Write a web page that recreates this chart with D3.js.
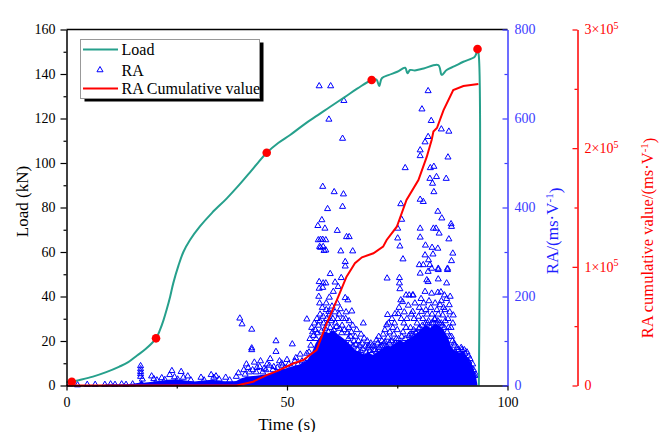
<!DOCTYPE html>
<html lang="en">
<head>
<meta charset="UTF-8">
<title>Load, RA and RA cumulative value</title>
<script src="https://d3js.org/d3.v7.min.js"></script>
<style>
  body { margin: 0; background: #fff; }
  svg text { font-family: "Liberation Serif", "Times New Roman", serif; }
</style>
</head>
<body>
<div id="chart"></div>
<script>
// ---- data ----
// load curve: [time s, load kN]
var loadCurve = [[0,1.5],[1.2,1.7],[3,2.5],[6,4],[9,6],[12,8.5],[14,10.5],[16,13.5],[18,16.5],[20.3,21.2],
  [21.2,25],[22,29.4],[22.7,34],[23.5,39.9],[24.2,45.9],[25.4,54],[26.5,60],[28,65.4],[30.3,71.6],[33,77.6],
  [36.3,84],[39,89.8],[41.6,95.8],[43.5,100.3],[45.4,104.6],[48,109],[50.7,112.6],[54,117.5],[57,121.5],[59.8,125.3],
  [63,129.5],[66,133.5],[69.2,137.3],[70.3,137.5],[70.9,134.6],[71.5,138.1],[73,139.5],[75,141],[76.8,142.8],
  [77.3,140.3],[77.9,141.8],[79,141.6],[81,142.5],[84.3,144],[85.1,139.6],[86.2,141.8],[88,143.5],[90,145.5],
  [92.6,147.8],[93.2,151.2],[93.5,148],[93.5,0]];
var loadMarks = [[1.2,1.7],[20.3,21.2],[45.4,104.6],[69.2,137.3],[93.2,151.2]];

// RA cumulative value: [time s, ms/V]
var cumCurve = [[0,0],[38.6,0],[42.3,3200],[45.4,8800],[48,12500],[51.4,18500],[53.7,21500],[55.2,25700],
  [56.7,29900],[59,52400],[61.3,72000],[63.5,91700],[64.7,98800],[65.4,103000],[67,108000],[69.6,111400],
  [71.8,117000],[72.6,122600],[74.9,133800],[77.1,156300],[79.8,173200],[81.7,192800],[82.8,206900],
  [83.2,214000],[84,217000],[85.5,232100],[87.7,249000],[90,252400],[93.4,254100]];

// upper edge of the solid mass of RA hits: [time s, RA]
var raBand = [[8,0],[9,3],[13,3],[15,4],[16.5,6],[17,12],[17.5,6],[19,8],[21,10],[23,13],[25,14],[27,11],
  [29,9],[31,11],[33,13],[35,10],[37,9],[38.5,10],[39.5,16],[41,20],[43,22],[45,25],[47,30],[49,36],[51,42],
  [53,48],[54.5,56],[55.5,70],[56.5,95],[57.5,110],[58.5,122],[59.5,118],[60.5,125],[61.5,115],[62.5,108],
  [63.5,100],[64.5,90],[65.5,80],[66.5,74],[67.5,70],[68.5,74],[69.5,68],[70.5,76],[71.5,82],[72.5,90],
  [73.5,88],[74.5,95],[75.5,102],[76.5,98],[77.5,105],[78.5,110],[79.5,118],[80.5,128],[81.5,136],[82.5,130],
  [83.5,138],[84.5,135],[85.5,126],[86.5,108],[87.2,88],[88,78],[89,74],[90,76],[91,62],[92,42],[92.8,25],[93.2,0]];

// single RA hits standing out of the mass: [time s, RA]
var raPoints = [[0.8,3],[2.5,1],[4.7,2],[6.5,2],[8.7,2],[10,3],[11,2],[12.5,3],[13.5,2],[15,3],
  [16.8,44],[16.8,37],[16.8,31],[16.8,26],[16.8,20],[17.2,14],[19.3,21],[19.8,15],[20.5,12],[21.6,17],
  [22.3,13],[23.4,24],[23.9,33],[24.5,19],[25.2,14],[26,31],[26.5,18],[27.5,21],[28.2,12],[30.5,18],[31.2,12],
  [32.8,24],[33.4,18],[33.9,21],[34.6,14],[36.1,18],[37,12],[38.5,20],[39,28],[39.3,151],[39.8,138],[40.2,35],
  [40.8,48],[41.5,30],[42,126],[42,84],[42,80],[42.6,52],[43.2,40],[44,55],[44.8,38],[45.5,48],[46.2,60],
  [47,42],[47.5,100],[47.5,76],[48.3,55],[49,45],[50,58],[51.2,93],[52,62],[53,70],[54.5,149],[54.5,72],
  [55.4,90],[55.8,120],[56.2,140],[56.6,105],
  [57.3,673],[59.9,673],[62.9,640],[59.5,598],[62.6,555],[82.0,662],[80.6,621],[82.7,595],[85.0,576],[86.7,571],
  [82.0,559],[81.3,547],[80.2,529],[80.2,516],[86.5,513],[76.8,489],[82.5,489],[83.3,492],[82.4,465],[83.9,469],
  [86.1,465],[83,454],[58.1,447],[60.7,435],[62.8,430],[83.3,435],[80.2,418],[80.9,413],[75.8,408],[59.2,397],
  [62.6,402],[84.2,391],[85.1,376],[57.9,372],[57.0,359],[58.6,353],[76.0,373],[87.2,363],[87.3,357],[61.4,348],
  [63.5,334],[64.1,334],[80.2,353],[83.2,353],[83.8,353],[84.5,342],[75.1,353],[57.6,328],[58.1,328],[57.1,327],
  [58.8,327],[80.2,333],[86.7,329],[75.1,331],[57.4,312],[58.2,312],[58.8,304],[57.6,310],[58.4,303],[62.2,302],
  [64.9,302],[75.6,313],[81.4,315],[82.9,310],[84.2,308],[87.6,297],[76.3,284],[81.3,293],[82.1,282],[83.1,295],
  [63.2,278],[63.2,268],[80.0,271],[80.9,271],[87.3,280],[86.4,263],[84.3,263],[82.4,271],[82.8,263],[82.0,256],
  [80.2,252],[59.8,251],[62.3,242],[57.3,233],[58.2,230],[58.8,230],[60.9,232],[61.6,222],[57.3,218],[58.1,220],
  [60.5,211],[57.2,200],[57.4,185],[59.6,198],[61.4,185],[63.2,197],[63.8,192],[58.9,170],[59.5,166],[64.7,167],
  [67.3,140],[70.3,102],[67.5,106],[68.4,84],[72.7,241],[75.5,242],[75.5,230],[75.6,217],[77.0,203],[77.7,203],
  [78.5,203],[75.8,192],[76.2,188],[72.8,159],[74.5,161],[75.2,161],[72.2,125],[72.6,136],[81.7,237],[82.0,233],
  [84.3,260],[86.4,260],[84.3,239],[86.2,230],[81.3,211],[82.8,207],[84.2,209],[85.7,203],[78.6,203],[87.0,200],
  [86.8,181],[84.7,181],[85.3,158],[87.7,158],[91.2,66],[91.2,53],[78.5,166],[80.5,166],
  [56.8,150],[57.5,160],[58.3,140],[59,150],[59.8,130],[60.4,150],[61,140],[61.8,160],[62.5,135],[63.3,150],
  [64,130],[64.6,120],[65.5,110],[66.2,100],[66.8,115],[69,95],[69.8,88],[70.8,110],[71.5,100],[73.3,120],
  [74,130],[76.5,140],[77.2,150],[78,130],[78.8,150],[79.5,140],[80,175],[81,185],[81.8,160],[82.6,175],
  [83.5,150],[84,170],[85,190],[85.8,170],[86.5,150],[87.2,130],[88.3,60],[89,55],[89.8,70],[90.5,48],
  [92,30],[92.6,22],
  [55.2,105],[55.6,130],[56,112],[56.4,125],[56.9,118],[57.1,135],[57.4,145],[57.8,122],[58,175],[58.2,155],
  [58.6,128],[58.9,185],[59.2,140],[59.4,120],[59.7,160],[60,145],[60.2,178],[60.6,125],[60.9,165],[61.2,132],
  [61.5,150],[61.9,128],[62.1,172],[62.4,118],[62.7,150],[63,125],[63.4,165],[63.7,118],[64.1,145],[64.4,110],
  [64.9,135],[65.2,100],[65.8,125],[66.4,90],[67,95],[67.8,88],[68.2,100],[68.8,78],[69.4,90],[70,80],
  [70.6,95],[71.2,88],[71.8,115],[72.2,98],[72.9,108],[73.6,100],[74.2,115],[74.8,105],
  [73,140],[73.8,150],[74.4,140],[75,125],[75.4,175],[75.9,150],[76.3,120],[76.6,165],[77,130],[77.5,180],
  [77.9,115],[78.2,160],[78.7,125],[79,185],[79.3,118],[79.8,155],[80.1,130],[80.4,195],[80.8,150],[81.2,125],
  [81.5,170],[81.9,140],[82.2,190],[82.5,130],[82.9,160],[83.2,140],[83.6,185],[83.9,130],[84.3,160],[84.6,140],
  [84.9,210],[85.2,135],[85.5,175],[85.9,145],[86.2,195],[86.6,130],[86.9,165],[87.3,110],[87.6,140],[87.9,95],
  [88.2,75],[88.6,85],[89.2,65],[89.6,80],[90,60],[90.4,72],[90.9,55],[91.4,45],[91.8,40],[92.3,35],[92.8,25],
  [40.5,25],[41.2,40],[42.2,35],[43,30],[43.8,42],[44.5,30],[45.2,35],[46,45],[46.8,35],[47.8,40],
  [48.8,50],[49.5,40],[50.4,48],[51,42],[51.8,55],[52.5,48],[53.4,55],[54,52],[54.8,60],[55,75],
  [63.9,105],[64.3,95],[65,88],[65.6,92],[66,80],[66.7,78],[67.2,82],[68,75],[68.5,90],[69.2,72],
  [69.7,80],[70.3,75],[70.9,85],[71.5,90],[72,95],[72.6,88],[73.2,95],[73.9,100],[74.6,95],[75.3,105],
  [76,110],[76.8,105],[77.6,112],[78.4,115],[79.1,120],[79.9,128],[80.7,135],[81.4,140],[82.1,145],[82.8,140],
  [83.5,148],[84.2,145],[85,140],[85.7,130],[86.3,120],[86.9,110],[87.5,100],[88,90],[88.8,80],[89.5,85],
  [90.2,80],[90.8,75],[91.5,60],[92.1,48]];

// ticks
var timeTicks = [0, 50, 100], timeMinor = [25, 75];
var loadTicks = [0, 20, 40, 60, 80, 100, 120, 140, 160], loadMinor = [10, 30, 50, 70, 90, 110, 130, 150];
var raTicks = [0, 200, 400, 600, 800], raMinor = [100, 300, 500, 700];
var cumTicks = [0, 100000, 200000, 300000], cumMinor = [50000, 150000, 250000];

// colours
var teal = "#26a08c", blue = "#0000ff", axisBlue = "#3c3cff", red = "#ff0000";
var serif = '"Liberation Serif", "Times New Roman", serif';

// ---- layout ----
var W = 667, H = 432;
var plotLeft = 66.5, plotRight = 507.5, plotTop = 29.5, plotBottom = 385.5, redAxisX = 577.5;

var svg = d3.select("#chart").append("svg")
  .attr("width", W).attr("height", H)
  .attr("font-family", serif);
svg.append("rect").attr("width", W).attr("height", H).attr("fill", "#fff");

var x = d3.scaleLinear().domain([0, 100]).range([plotLeft, plotRight]);
var yLoad = d3.scaleLinear().domain([0, 160]).range([plotBottom, plotTop]);
var yRA = d3.scaleLinear().domain([0, 800]).range([plotBottom, plotTop]);
var yCum = d3.scaleLinear().domain([0, 300000]).range([plotBottom, plotTop]);

// RA hits
svg.append("path")
  .datum(raBand)
  .attr("fill", blue)
  .attr("d", d3.area()
    .x(function(d) { return x(d[0]); })
    .y0(yRA(0))
    .y1(function(d) { return yRA(d[1]); }));

var tri = d3.symbol().type(d3.symbolTriangle).size(16);
svg.append("g").selectAll("path")
  .data(raPoints)
  .enter().append("path")
  .attr("d", tri)
  .attr("transform", function(d) { return "translate(" + x(d[0]) + "," + yRA(d[1]) + ")"; })
  .attr("fill", "none")
  .attr("stroke", blue)
  .attr("stroke-width", 1);

// RA cumulative value
svg.append("path")
  .datum(cumCurve)
  .attr("fill", "none")
  .attr("stroke", red)
  .attr("stroke-width", 2)
  .attr("d", d3.line()
    .x(function(d) { return x(d[0]); })
    .y(function(d) { return yCum(d[1]); }));

// load
svg.append("path")
  .datum(loadCurve)
  .attr("fill", "none")
  .attr("stroke", teal)
  .attr("stroke-width", 2)
  .attr("d", d3.line()
    .curve(d3.curveCatmullRom.alpha(0.5))
    .x(function(d) { return x(d[0]); })
    .y(function(d) { return yLoad(d[1]); }));

svg.append("g").selectAll("circle")
  .data(loadMarks)
  .enter().append("circle")
  .attr("cx", function(d) { return x(d[0]); })
  .attr("cy", function(d) { return yLoad(d[1]); })
  .attr("r", 4.3)
  .attr("fill", red);

// ---- axes ----
function styleAxis(g, color, fontSize) {
  g.attr("font-family", serif);
  g.select(".domain").attr("stroke", color).attr("stroke-width", 1.5);
  g.selectAll(".tick line").attr("stroke", color).attr("stroke-width", 1.2);
  g.selectAll(".tick text").attr("fill", color).style("font-size", fontSize + "px");
}
function minor(g, color) {
  g.select(".domain").remove();
  g.selectAll(".tick line").attr("stroke", color).attr("stroke-width", 1.2);
}

// top frame
svg.append("line").attr("x1", plotLeft).attr("x2", plotRight).attr("y1", plotTop).attr("y2", plotTop)
  .attr("stroke", "#000").attr("stroke-width", 1.5);

var gx = svg.append("g").attr("transform", "translate(0," + plotBottom + ")")
  .call(d3.axisBottom(x).tickValues(timeTicks).tickSize(5).tickSizeOuter(0).tickPadding(7));
styleAxis(gx, "#000", 14);
svg.append("g").attr("transform", "translate(0," + plotBottom + ")")
  .call(d3.axisBottom(x).tickValues(timeMinor).tickSize(3).tickFormat(""))
  .call(minor, "#000");

var gl = svg.append("g").attr("transform", "translate(" + plotLeft + ",0)")
  .call(d3.axisLeft(yLoad).tickValues(loadTicks).tickSize(6).tickSizeOuter(0).tickPadding(5));
styleAxis(gl, "#000", 14);
svg.append("g").attr("transform", "translate(" + plotLeft + ",0)")
  .call(d3.axisLeft(yLoad).tickValues(loadMinor).tickSize(3).tickFormat(""))
  .call(minor, "#000");

var gb = svg.append("g").attr("transform", "translate(" + plotRight + ",0)")
  .call(d3.axisRight(yRA).tickValues(raTicks).tickSize(-5).tickSizeOuter(0).tickPadding(7));
styleAxis(gb, axisBlue, 14);
svg.append("g").attr("transform", "translate(" + plotRight + ",0)")
  .call(d3.axisRight(yRA).tickValues(raMinor).tickSize(-3).tickFormat(""))
  .call(minor, axisBlue);

var gr = svg.append("g").attr("transform", "translate(" + redAxisX + ",0)")
  .call(d3.axisRight(yCum).tickValues(cumTicks).tickSize(-5).tickSizeOuter(0).tickPadding(7)
    .tickFormat(function() { return ""; }));
styleAxis(gr, red, 14);
gr.selectAll(".tick text").each(function(d) {
  var t = d3.select(this);
  if (d === 0) { t.text("0"); return; }
  t.append("tspan").text((d / 100000) + "\u00d710");
  t.append("tspan").text("5").attr("dy", "-0.55em").style("font-size", "10px");
});
svg.append("g").attr("transform", "translate(" + redAxisX + ",0)")
  .call(d3.axisRight(yCum).tickValues(cumMinor).tickSize(-3).tickFormat(""))
  .call(minor, red);

// axis titles
svg.append("text")
  .attr("transform", "translate(28," + ((plotTop + plotBottom) / 2 - 6) + ") rotate(-90)")
  .attr("text-anchor", "middle").style("font-size", "17px").attr("fill", "#000")
  .text("Load (kN)");

svg.append("text")
  .attr("x", x(50)).attr("y", 429.5)
  .attr("text-anchor", "middle").style("font-size", "17px").attr("fill", "#000")
  .text("Time (s)");

var tb = svg.append("text")
  .attr("transform", "translate(558,231) rotate(-90)")
  .attr("text-anchor", "middle").style("font-size", "17px").attr("fill", "#2020ff");
tb.append("tspan").text("RA/(ms\u00b7V");
tb.append("tspan").text("-1").attr("dy", "-0.45em").style("font-size", "11px");
tb.append("tspan").text(")").attr("dy", "0.45em");

var tr = svg.append("text")
  .attr("transform", "translate(653,238) rotate(-90)")
  .attr("text-anchor", "middle").style("font-size", "16.5px").attr("fill", red);
tr.append("tspan").text("RA cumulative value/(ms\u00b7V");
tr.append("tspan").text("-1").attr("dy", "-0.45em").style("font-size", "11px");
tr.append("tspan").text(")").attr("dy", "0.45em");

// ---- legend ----
var lg = svg.append("g");
lg.append("rect").attr("x", 84.5).attr("y", 42.5).attr("width", 179).attr("height", 59).attr("fill", "#000");
lg.append("rect").attr("x", 80.5).attr("y", 39.5).attr("width", 179).attr("height", 59)
  .attr("fill", "#fff").attr("stroke", "#999").attr("stroke-width", 1);

var legendItems = ["Load", "RA", "RA Cumulative value"];
var legendY = [49.5, 70, 88.5];
lg.append("line").attr("x1", 83).attr("x2", 118).attr("y1", legendY[0]).attr("y2", legendY[0])
  .attr("stroke", teal).attr("stroke-width", 2);
lg.append("path").attr("d", tri).attr("transform", "translate(100," + legendY[1] + ")")
  .attr("fill", "none").attr("stroke", blue).attr("stroke-width", 1);
lg.append("line").attr("x1", 83).attr("x2", 118).attr("y1", legendY[2]).attr("y2", legendY[2])
  .attr("stroke", red).attr("stroke-width", 2);
lg.selectAll("text.item")
  .data(legendItems)
  .enter().append("text")
  .attr("class", "item")
  .attr("x", 121.5)
  .attr("y", function(d, i) { return legendY[i] + 5.5; })
  .style("font-size", "16px").attr("fill", "#000")
  .text(function(d) { return d; });
</script>
</body>
</html>
